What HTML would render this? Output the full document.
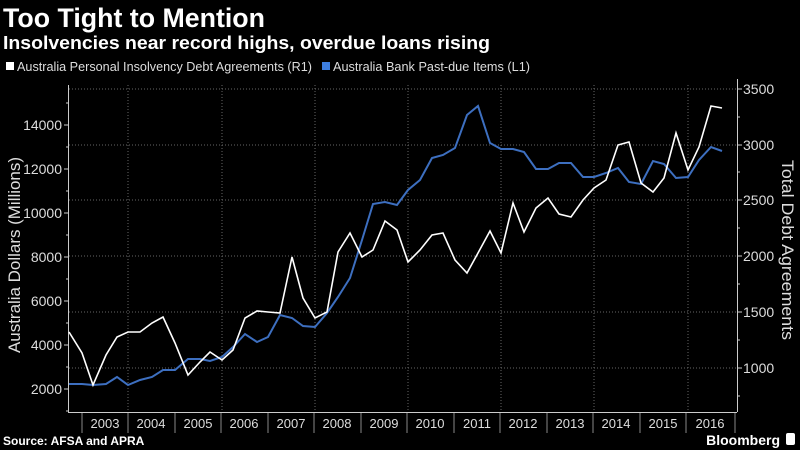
<!DOCTYPE html>
<html><head><meta charset="utf-8"><style>
html,body{margin:0;padding:0;background:#000;}
svg{display:block;font-family:"Liberation Sans",sans-serif;}
</style></head><body>
<svg width="800" height="450" viewBox="0 0 800 450" xmlns="http://www.w3.org/2000/svg">
<rect width="800" height="450" fill="#000"/>
<text x="3" y="27" fill="#fff" font-size="27" font-weight="bold" textLength="262" lengthAdjust="spacingAndGlyphs">Too Tight to Mention</text>
<text x="3" y="49" fill="#fff" font-size="18" font-weight="bold" textLength="487" lengthAdjust="spacingAndGlyphs">Insolvencies near record highs, overdue loans rising</text>
<rect x="6" y="62" width="8" height="8" fill="#fff"/>
<text x="17" y="71" fill="#ddd" font-size="12.5" textLength="295" lengthAdjust="spacingAndGlyphs">Australia Personal Insolvency Debt Agreements (R1)</text>
<rect x="322" y="62" width="8" height="8" fill="#3d7ee0"/>
<text x="333" y="71" fill="#ddd" font-size="12.5" textLength="197" lengthAdjust="spacingAndGlyphs">Australia Bank Past-due Items (L1)</text>
<g stroke="#666" stroke-width="1" stroke-dasharray="1,2">
<line x1="69" y1="368" x2="737" y2="368"/><line x1="69" y1="312" x2="737" y2="312"/>
<line x1="69" y1="256" x2="737" y2="256"/><line x1="69" y1="200" x2="737" y2="200"/>
<line x1="69" y1="145" x2="737" y2="145"/><line x1="69" y1="89" x2="737" y2="89"/>
<line x1="128" y1="85" x2="128" y2="412"/><line x1="222" y1="85" x2="222" y2="412"/>
<line x1="315" y1="85" x2="315" y2="412"/><line x1="408" y1="85" x2="408" y2="412"/>
<line x1="501" y1="85" x2="501" y2="412"/><line x1="594" y1="85" x2="594" y2="412"/>
<line x1="688" y1="85" x2="688" y2="412"/>
</g>
<g stroke="#ccc" stroke-width="1" fill="none">
<line x1="68.5" y1="85" x2="68.5" y2="412"/>
<line x1="737.5" y1="79" x2="737.5" y2="412"/>
<line x1="68" y1="412.5" x2="737" y2="412.5"/>
<path d="M64 389h4M64 345h4M64 301h4M64 257h4M64 213h4M64 169h4M64 125h4M66 367h2M66 323h2M66 279h2M66 235h2M66 191h2M66 147h2M66 103h2M66 411h2"/>
<path d="M738 368h4M738 312h4M738 256h4M738 200h4M738 145h4M738 89h4M738 396h2M738 340h2M738 284h2M738 228h2M738 172h2M738 117h2"/>
<path d="M82 413v20M128 413v20M175 413v20M221 413v20M268 413v20M314 413v20M361 413v20M407 413v20M454 413v20M500 413v20M547 413v20M593 413v20M640 413v20M686 413v20M735 413v20" stroke="#888"/>
</g>
<g fill="#ddd" font-size="14" text-anchor="end">
<text x="62" y="394">2000</text><text x="62" y="350">4000</text><text x="62" y="306">6000</text>
<text x="62" y="262">8000</text><text x="62" y="218">10000</text><text x="62" y="174">12000</text><text x="62" y="130">14000</text>
</g>
<g fill="#ddd" font-size="14">
<text x="743" y="373">1000</text><text x="743" y="317">1500</text><text x="743" y="261">2000</text>
<text x="743" y="205">2500</text><text x="743" y="150">3000</text><text x="743" y="94">3500</text>
</g>
<g fill="#ddd" font-size="13" text-anchor="middle">
<text x="105" y="428">2003</text><text x="151" y="428">2004</text><text x="198" y="428">2005</text>
<text x="244" y="428">2006</text><text x="291" y="428">2007</text><text x="337" y="428">2008</text>
<text x="384" y="428">2009</text><text x="430" y="428">2010</text><text x="477" y="428">2011</text>
<text x="523" y="428">2012</text><text x="570" y="428">2013</text><text x="616" y="428">2014</text>
<text x="663" y="428">2015</text><text x="710" y="428">2016</text>
</g>
<text transform="translate(20,255) rotate(-90)" fill="#ddd" font-size="17" text-anchor="middle" textLength="196" lengthAdjust="spacingAndGlyphs">Australia Dollars (Millions)</text>
<text transform="translate(782,250) rotate(90)" fill="#ddd" font-size="17" text-anchor="middle" textLength="180" lengthAdjust="spacingAndGlyphs">Total Debt Agreements</text>
<polyline fill="none" stroke="#3d6fc0" stroke-width="2" points="69,384 82,384 93,385 106,384 117,377 128,385 140,380 152,377 163,370 175,370 188,359 200,359 210,361 222,357 233,347 245,334 257,342 268,337 280,315 292,318 303,326 315,327 327,313 338,297 350,278 362,240 373,204 385,202 397,205 408,190 420,180 432,158 443,155 455,148 467,115 478,106 490,143 501,149 513,149 524,152 536,169 548,169 559,163 571,163 583,177 594,177 606,173 618,168 629,182 641,184 653,161 664,164 676,178 688,177 699,160 711,147 722,151"/>
<polyline fill="none" stroke="#fff" stroke-width="1.6" points="69,332 82,353 93,385 106,355 117,337 128,332 140,332 152,323 163,317 175,343 188,375 200,362 210,352 222,360 233,350 245,318 257,311 268,312 280,313 292,257 303,298 315,318 327,312 338,252 350,233 362,257 373,250 385,221 397,230 408,262 420,250 432,235 443,233 455,260 467,273 478,253 490,231 501,253 513,203 524,232 536,208 548,198 559,214 571,217 583,200 594,188 606,180 618,145 629,142 641,183 653,192 664,178 676,133 688,170 699,147 711,106 722,108"/>
<text x="3" y="445" fill="#fff" font-size="12" font-weight="bold">Source: AFSA and APRA</text>
<text x="780" y="445" fill="#fff" font-size="14" font-weight="bold" text-anchor="end">Bloomberg</text>
<rect x="786" y="433" width="9" height="12" rx="2" fill="#fff"/>
</svg>
</body></html>
